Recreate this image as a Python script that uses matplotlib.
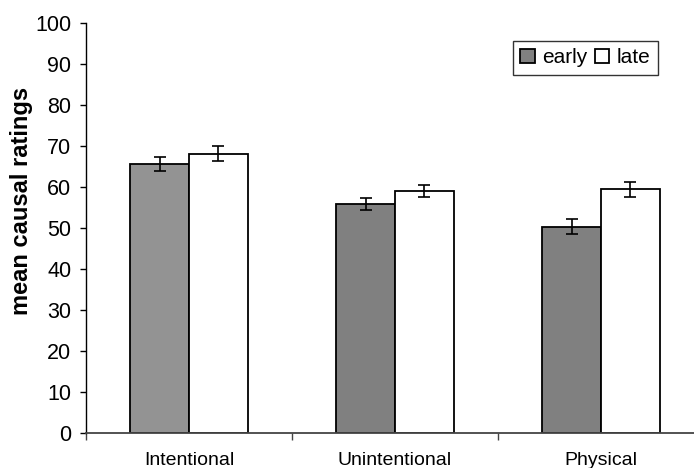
import matplotlib.pyplot as plt
import numpy as np

plt.rcParams['font.family'] = ['Liberation Sans', 'DejaVu Sans']

# data
categories = ["Intentional", "Unintentional", "Physical"]
early = [65.6, 55.8, 50.3]
late = [68.1, 59.0, 59.4]
early_err = [1.7, 1.5, 1.8]
late_err = [1.8, 1.5, 1.85]
early_colors = ["#939393", "#808080", "#808080"]
y_ticks = list(range(0, 101, 10))

fig = plt.figure(figsize=(6.94, 4.68), dpi=100)
ax = fig.add_axes([86 / 694, 35 / 468, 618 / 694, 410 / 468])

x = np.arange(len(categories))
w = 0.285
off = 0.1425

ax.bar(x - off, early, w, color=early_colors, edgecolor="black", linewidth=1.3,
       label="early", zorder=2)
ax.bar(x + off, late, w, color="white", edgecolor="black", linewidth=1.3,
       label="late", zorder=2)
ax.errorbar(x - off, early, yerr=early_err, fmt="none", ecolor="black",
            elinewidth=1.2, capsize=4, capthick=1.2, zorder=3)
ax.errorbar(x + off, late, yerr=late_err, fmt="none", ecolor="black",
            elinewidth=1.2, capsize=4, capthick=1.2, zorder=3)

ax.set_xlim(-0.5, 2.5)
ax.set_ylim(0, 100)
ax.set_yticks(y_ticks)
ax.tick_params(axis="y", labelsize=15.5, length=4.5, width=1, direction="out", pad=6)

# category ticks sit between the groups, labels under the groups
ax.set_xticks([-0.5, 0.5, 1.5, 2.5])
ax.set_xticklabels([])
ax.set_xticks(x, minor=True)
ax.set_xticklabels(categories, minor=True, fontsize=14)
ax.tick_params(axis="x", which="major", length=5, width=1, color="#444444")
ax.tick_params(axis="x", which="minor", length=0, pad=14)

ax.spines["top"].set_visible(False)
ax.spines["right"].set_visible(False)
ax.spines["left"].set_linewidth(1)
ax.spines["bottom"].set_linewidth(1.3)
ax.spines["bottom"].set_color("#444444")

ax.set_ylabel("mean causal ratings", fontsize=17, fontweight="bold")
ax.yaxis.set_label_coords(-0.086, 0.566)

leg = ax.legend(loc="upper left", bbox_to_anchor=(0.691, 0.956), ncol=2,
                fontsize=15, frameon=True, fancybox=False, handlelength=0.7,
                handleheight=0.7, handletextpad=0.35, columnspacing=0.35,
                borderpad=0.35, borderaxespad=0)
leg.get_frame().set_edgecolor("black")
leg.get_frame().set_linewidth(1)
leg.legend_handles[0].set_facecolor("#808080")

fig.savefig("out.png", dpi=100)
